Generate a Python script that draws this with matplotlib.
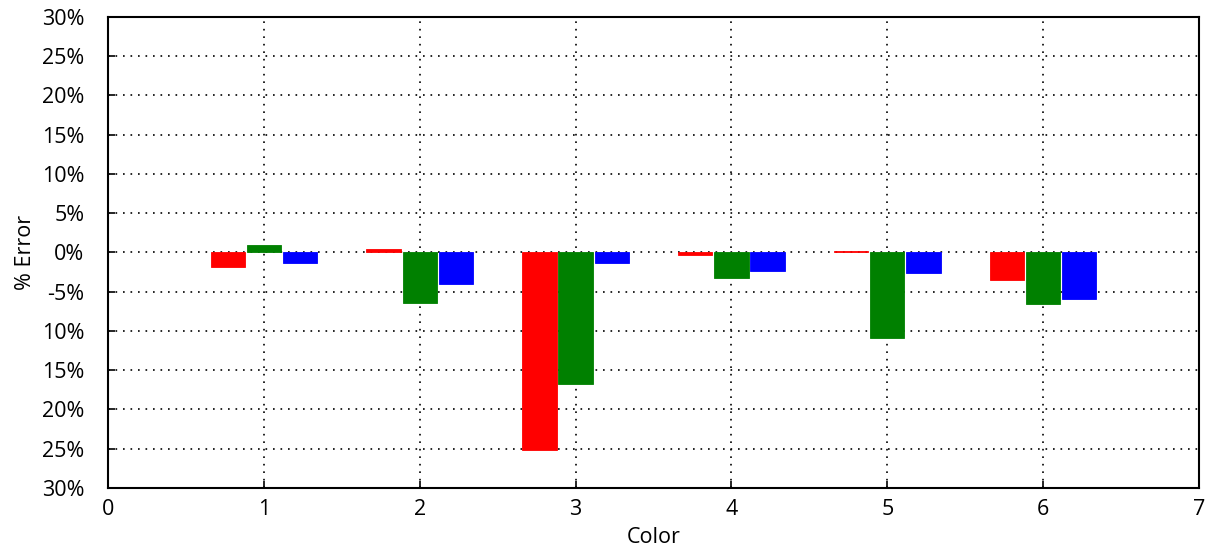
import numpy as np
import matplotlib.pyplot as plt

# ---- data ---- #
colors_idx = [1, 2, 3, 4, 5, 6]
red_err = [-1.8, 0.4, -25.1, -0.3, 0.2, -3.5]
green_err = [0.9, -6.4, -16.7, -3.2, -10.9, -6.6]
blue_err = [-1.4, -4.0, -1.4, -2.4, -2.6, -5.9]
y_ticks = [30, 25, 20, 15, 10, 5, 0, -5, -10, -15, -20, -25, -30]
y_tick_labels = ['30%', '25%', '20%', '15%', '10%', '5%', '0%',
                 '-5%', '10%', '15%', '20%', '25%', '30%']
x_ticks = [0, 1, 2, 3, 4, 5, 6, 7]

plt.rcParams['font.family'] = ['Open Sans', 'DejaVu Sans']

fig = plt.figure(figsize=(12.16, 5.49), dpi=100)
ax = fig.add_axes([0.0888, 0.1111, 0.8972, 0.858])

x = np.array(colors_idx, dtype=float)
w = 0.22
off = 0.232
for vals, c, dx in [(red_err, '#ff0000', -off), (green_err, '#008000', 0), (blue_err, '#0000ff', off)]:
   ax.bar(x + dx, vals, width=w, color=c, edgecolor=c, linewidth=0.6, zorder=3)

ax.set_xlim(0, 7)
ax.set_ylim(-30, 30)
ax.set_xticks(x_ticks)
ax.set_yticks(y_ticks)
ax.set_yticklabels(y_tick_labels)

ax.grid(True, color='black', linestyle=(0, (1, 3.5)), linewidth=1.2, zorder=1)
ax.tick_params(direction='in', length=5, width=1.2, labelsize=15.5, color='black')
ax.tick_params(axis='y', pad=17)
ax.tick_params(axis='x', pad=8)
for s in ax.spines.values():
   s.set_linewidth(1.5)
   s.set_color('black')

ax.set_xlabel('Color', fontsize=15.5, labelpad=5)
ax.set_ylabel('% Error', fontsize=15.5, labelpad=4)

fig.savefig('out.png', dpi=100)
